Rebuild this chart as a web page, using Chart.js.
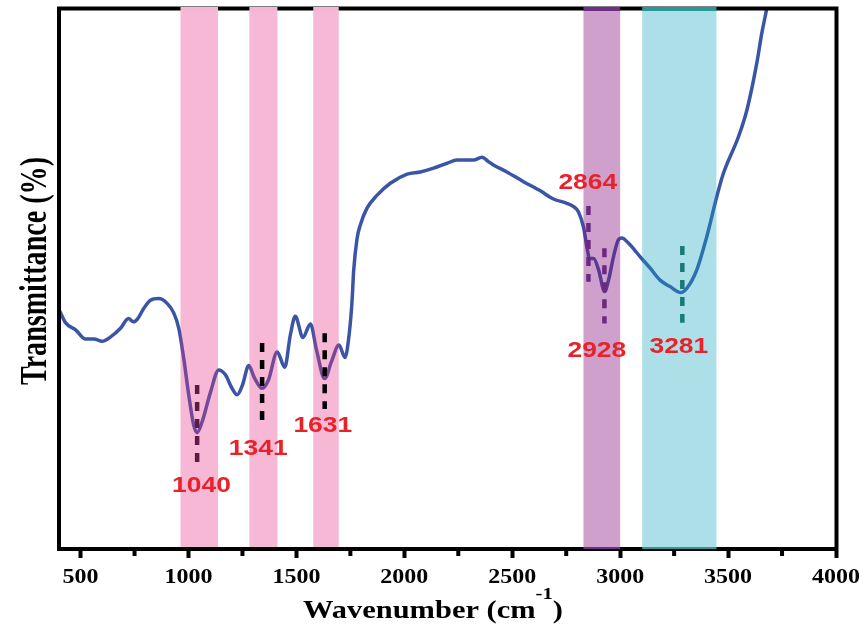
<!DOCTYPE html>
<html>
<head>
<meta charset="utf-8">
<script src="https://cdn.jsdelivr.net/npm/chart.js@4.4.1/dist/chart.umd.min.js"></script>
<style>
  html, body { margin: 0; padding: 0; background: #fff; }
  canvas { display: block; }
</style>
</head>
<body>
<canvas id="ftir" width="859" height="628"></canvas>
<script>
// FTIR spectrum
var wavenumber = [403, 431, 477, 523, 562, 600, 639, 685, 722, 745,
  765, 793, 824, 862, 901, 932, 955, 978, 1001, 1024,
  1040, 1063, 1102, 1140, 1171, 1199, 1225, 1250, 1279, 1306,
  1341, 1370, 1411, 1446, 1472, 1495, 1530, 1565, 1593, 1631,
  1662, 1697, 1725, 1745, 1758, 1765, 1781, 1796, 1827, 1874,
  1935, 2013, 2074, 2136, 2198, 2244, 2290, 2321, 2360, 2390,
  2413, 2475, 2552, 2630, 2691, 2753, 2784, 2807, 2830, 2846,
  2858, 2877, 2900, 2928, 2946, 2969, 2991, 3008, 3039, 3093,
  3139, 3185, 3231, 3281, 3309, 3355, 3401, 3448, 3478, 3548,
  3587, 3633, 3656, 3679, 3704];
var transmittance = [44.0, 41.8, 40.5, 38.8, 38.8, 38.4, 39.2, 40.8, 42.6, 42.0,
  42.6, 44.5, 46.0, 46.3, 45.4, 43.6, 40.8, 35.2, 28.5, 22.9,
  21.5, 23.5, 29.0, 33.1, 32.2, 29.9, 28.5, 30.3, 33.9, 31.6,
  29.7, 31.2, 36.4, 33.6, 39.6, 43.0, 39.1, 41.6, 36.8, 31.5,
  34.6, 37.7, 35.4, 39.9, 46.0, 51.3, 57.4, 59.9, 63.0, 65.4,
  67.6, 69.3, 69.7, 70.4, 71.3, 71.9, 71.9, 71.9, 72.4, 71.6,
  71.0, 69.7, 67.9, 66.2, 64.7, 63.9, 63.3, 62.3, 59.5, 55.8,
  53.7, 53.7, 51.6, 47.6, 49.7, 54.0, 57.1, 57.5, 56.5, 54.0,
  51.9, 49.7, 48.5, 47.4, 48.2, 51.6, 57.7, 65.2, 69.4, 76.2,
  81.1, 89.8, 95.3, 99.9, 106];

// shaded bands
var bandStart = [963, 1282, 1578, 2830, 3102];
var bandEnd = [1137, 1412, 1696, 3000, 3446];

// peak markers
var peakLabels = ['1040', '1341', '1631', '2864', '2928', '3281'];
var markerX = [1040, 1341, 1631, 2853, 2927, 3288];
var markerTop = [30.3, 38.1, 39.9, 63.4, 55.6, 56.0];
var markerBottom = [16.1, 23.8, 25.9, 49.4, 41.7, 41.8];
var labelX = [1060, 1323, 1622, 2850, 2892, 3272];
var labelY = [11.7, 18.5, 22.8, 67.6, 36.7, 37.4];

var xTicks = [500, 750, 1000, 1250, 1500, 1750, 2000, 2250, 2500, 2750, 3000, 3250, 3500, 3750, 4000];

var bandFill = ['rgba(229,52,132,0.35)', 'rgba(229,52,132,0.35)', 'rgba(229,52,132,0.35)',
  'rgba(135,18,125,0.4)', 'rgba(21,164,192,0.35)'];
var bandCap = ['#f3b7d1', '#f3b7d1', '#f3b7d1', '#6c2d84', '#2a9896'];
var markerColor = ['#5c1a44', '#000000', '#000000', '#6b2a82', '#6b2a82', '#157a78'];

function stretchText(ctx, text, x, y, font, color, sx) {
  ctx.save();
  ctx.font = font;
  ctx.fillStyle = color;
  ctx.textAlign = 'center';
  ctx.textBaseline = 'middle';
  ctx.translate(x, y);
  ctx.scale(sx, 1);
  ctx.fillText(text, 0, 0);
  ctx.restore();
}

var decorPlugin = {
  id: 'decor',
  afterDatasetsDraw: function(chart) {
    var ctx = chart.ctx;
    var a = chart.chartArea;
    var xs = chart.scales.x, ys = chart.scales.y;

    // bands over the curve
    ctx.save();
    for (var i = 0; i < bandStart.length; i++) {
      var x1 = xs.getPixelForValue(bandStart[i]);
      var x2 = xs.getPixelForValue(bandEnd[i]);
      ctx.fillStyle = bandFill[i];
      ctx.fillRect(x1, a.top + 2, x2 - x1, a.bottom - a.top - 4);
    }
    ctx.restore();

    // frame
    ctx.save();
    ctx.strokeStyle = '#000';
    ctx.lineWidth = 4;
    ctx.strokeRect(a.left, a.top + 0.5, a.right - a.left + 0.5, a.bottom - a.top - 0.5);
    // minor ticks
    xTicks.forEach(function(v) {
      if (v % 500 !== 0) {
        var px = xs.getPixelForValue(v);
        ctx.beginPath();
        ctx.moveTo(px, a.bottom + 2);
        ctx.lineTo(px, a.bottom + 7);
        ctx.stroke();
      }
    });
    ctx.restore();

    // band caps on the top edge
    ctx.save();
    for (var j = 0; j < bandStart.length; j++) {
      var b1 = xs.getPixelForValue(bandStart[j]);
      var b2 = xs.getPixelForValue(bandEnd[j]);
      ctx.fillStyle = bandCap[j];
      ctx.fillRect(b1, a.top - 1, b2 - b1, 4);
      if (j >= 3) ctx.fillRect(b1, a.bottom - 2, b2 - b1, 2);
    }
    ctx.restore();

    // dashed peak markers
    ctx.save();
    ctx.lineWidth = 4.5;
    ctx.setLineDash([9, 8]);
    for (var k = 0; k < markerX.length; k++) {
      var mx = xs.getPixelForValue(markerX[k]);
      ctx.strokeStyle = markerColor[k];
      ctx.beginPath();
      ctx.moveTo(mx, ys.getPixelForValue(markerTop[k]));
      ctx.lineTo(mx, ys.getPixelForValue(markerBottom[k]));
      ctx.stroke();
    }
    ctx.restore();

    // peak labels
    for (var m = 0; m < peakLabels.length; m++) {
      stretchText(ctx, peakLabels[m], xs.getPixelForValue(labelX[m]), ys.getPixelForValue(labelY[m]),
        'bold 22px "Liberation Sans", Arial, sans-serif', '#e8222b', 1.2);
    }

    // tick labels
    xTicks.forEach(function(v) {
      if (v % 500 === 0) {
        stretchText(ctx, String(v), xs.getPixelForValue(v), a.bottom + 29,
          'bold 20px "Liberation Serif", "Times New Roman", serif', '#000', 1.2);
      }
    });

    // x title with superscript
    ctx.save();
    var mainFont = 'bold 25px "Liberation Serif", "Times New Roman", serif';
    var supFont = 'bold 17px "Liberation Serif", "Times New Roman", serif';
    ctx.font = mainFont;
    var w1 = ctx.measureText('Wavenumber (cm').width;
    var w3 = ctx.measureText(')').width;
    ctx.font = supFont;
    var w2 = ctx.measureText('-1').width;
    var sx = 260 / (w1 + w2 + w3);
    ctx.translate(303, 618);
    ctx.scale(sx, 1);
    ctx.fillStyle = '#000';
    ctx.textBaseline = 'alphabetic';
    ctx.textAlign = 'left';
    ctx.font = mainFont;
    ctx.fillText('Wavenumber (cm', 0, 0);
    ctx.font = supFont;
    ctx.fillText('-1', w1, -19);
    ctx.font = mainFont;
    ctx.fillText(')', w1 + w2, 0);
    ctx.restore();

    // y title
    ctx.save();
    ctx.font = 'bold 28px "Liberation Serif", "Times New Roman", serif';
    var yt = 'Transmittance (%)';
    var along = 228 / ctx.measureText(yt).width;
    ctx.translate(36, 271);
    ctx.rotate(-Math.PI / 2);
    ctx.scale(along, 1.35);
    ctx.fillStyle = '#000';
    ctx.textAlign = 'center';
    ctx.textBaseline = 'middle';
    ctx.fillText(yt, 0, 0);
    ctx.restore();
  }
};

var points = wavenumber.map(function(w, i) {
  return { x: w, y: transmittance[i] };
});

var config = {
  type: 'line',
  data: {
    datasets: [
      {
        label: 'FTIR',
        data: points,
        borderColor: '#3a55a6',
        borderWidth: 3.5,
        pointRadius: 0,
        fill: false,
        cubicInterpolationMode: 'monotone'
      }
    ]
  },
  options: {
    responsive: false,
    animation: false,
    devicePixelRatio: 1,
    layout: { padding: { left: 59, right: 23, top: 8, bottom: 0 } },
    plugins: {
      legend: { display: false },
      tooltip: { enabled: false }
    },
    scales: {
      x: {
        type: 'linear',
        min: 400,
        max: 4000,
        afterBuildTicks: function(scale) {
          scale.ticks = xTicks.map(function(v) { return { value: v }; });
        },
        afterFit: function(scale) {
          scale.height = 79;
        },
        ticks: { display: false },
        grid: {
          display: true,
          drawOnChartArea: false,
          drawTicks: true,
          tickLength: 9,
          tickWidth: 4,
          tickColor: function(c) {
            return c.tick && c.tick.value % 500 === 0 ? '#000' : 'rgba(0,0,0,0)';
          }
        },
        border: { display: true, width: 4, color: '#000' }
      },
      y: {
        display: false,
        min: 0,
        max: 100
      }
    }
  },
  plugins: [decorPlugin]
};

var ctx = document.getElementById('ftir').getContext('2d');
var ftirChart = new Chart(ctx, config);
</script>
</body>
</html>
